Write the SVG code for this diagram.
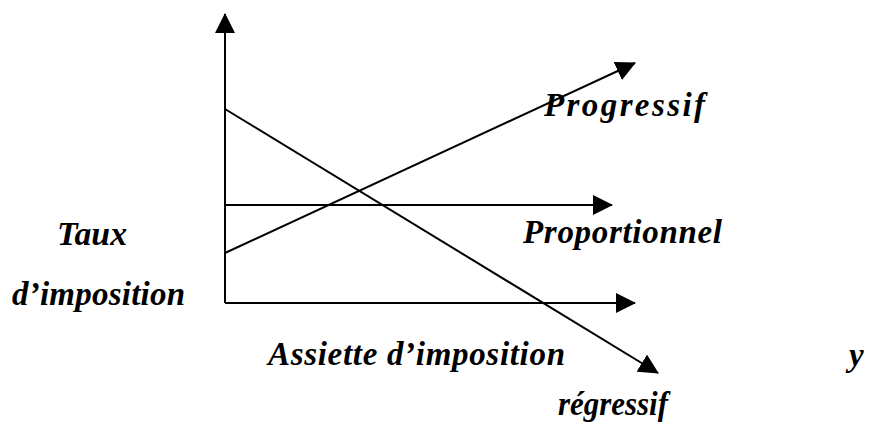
<svg xmlns="http://www.w3.org/2000/svg" width="869" height="431" viewBox="0 0 869 431">
<style>
.ln{stroke:#000;stroke-width:2;fill:none}
.lbl{font-family:'Liberation Serif','Times New Roman',serif;font-weight:700;font-style:italic;font-size:33px;fill:#000}
</style>
<defs>
<marker id="ah" viewBox="0 0 20 20" markerWidth="20" markerHeight="20" refX="19" refY="10" orient="auto" markerUnits="userSpaceOnUse">
<path d="M0,0 L20,10 L0,20 z" fill="#000"/>
</marker>
</defs>
<rect width="869" height="431" fill="#fff"/>
<g id="connectors">
<line id="y-axis" class="ln" x1="225" y1="303" x2="225" y2="14" marker-end="url(#ah)"/>
<line id="x-axis" class="ln" x1="225" y1="303" x2="635" y2="303" marker-end="url(#ah)"/>
<line id="proportionnel-line" class="ln" x1="225" y1="205" x2="612" y2="205" marker-end="url(#ah)"/>
<line id="progressif-line" class="ln" x1="225" y1="253" x2="635" y2="63" marker-end="url(#ah)"/>
<line id="regressif-line" class="ln" x1="225" y1="109" x2="658" y2="373" marker-end="url(#ah)"/>
</g>
<g id="label-progressif"><text class="lbl" font-family="Liberation Serif, serif" x="544" y="116" textLength="161" lengthAdjust="spacing">Progressif</text></g>
<g id="label-proportionnel"><text class="lbl" font-family="Liberation Serif, serif" x="523" y="243" textLength="199" lengthAdjust="spacing">Proportionnel</text></g>
<g id="label-taux"><text class="lbl" font-family="Liberation Serif, serif" x="57" y="245" textLength="70" lengthAdjust="spacingAndGlyphs">Taux</text>
<text class="lbl" font-family="Liberation Serif, serif" x="12" y="305" textLength="173" lengthAdjust="spacing">d’imposition</text></g>
<g id="label-assiette"><text class="lbl" font-family="Liberation Serif, serif" x="268" y="365" textLength="297" lengthAdjust="spacing">Assiette d’imposition</text></g>
<g id="label-regressif"><text class="lbl" font-family="Liberation Serif, serif" x="558" y="415" textLength="110" lengthAdjust="spacingAndGlyphs">régressif</text></g>
<g id="label-y"><text class="lbl" font-family="Liberation Serif, serif" x="849" y="366">y</text></g>
</svg>
